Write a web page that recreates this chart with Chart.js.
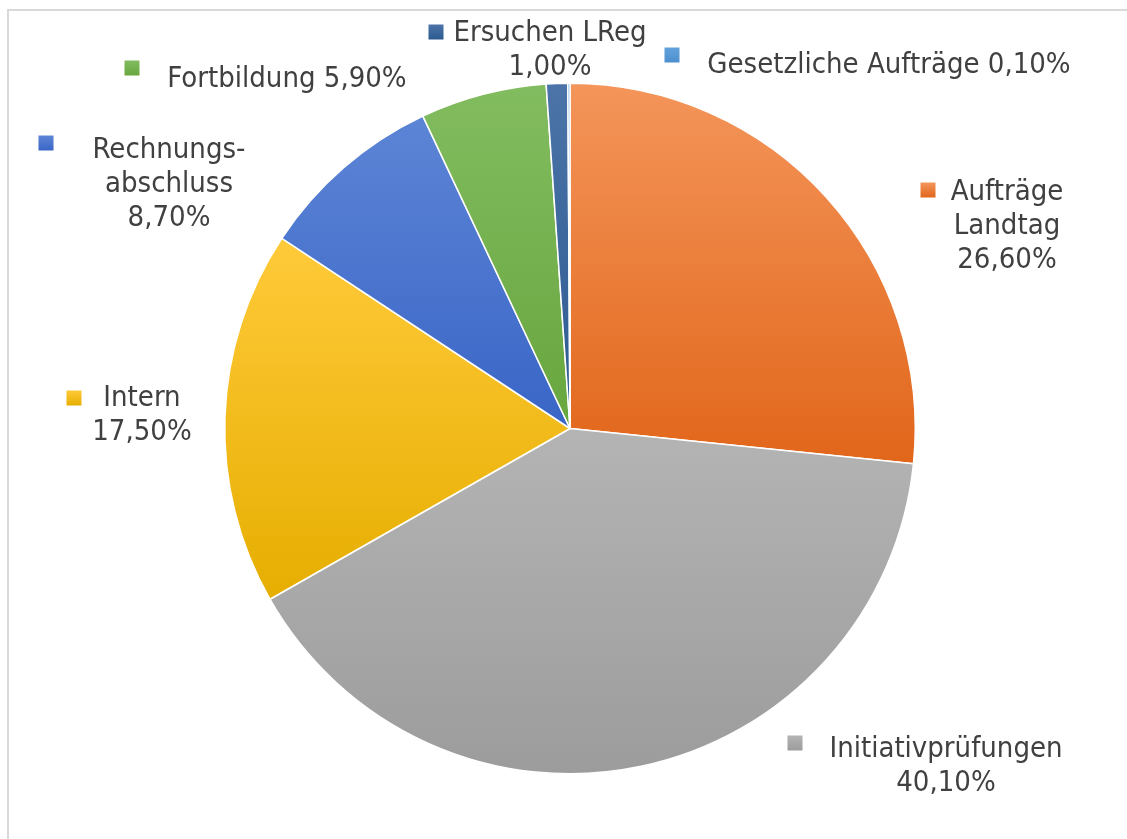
<!DOCTYPE html>
<html>
<head>
<meta charset="utf-8">
<script src="https://cdn.jsdelivr.net/npm/chart.js@4.4.1/dist/chart.umd.min.js"></script>
<style>
  html, body { margin: 0; padding: 0; background: #fff; overflow: hidden; }
  canvas { display: block; }
</style>
</head>
<body>
<canvas id="pie-chart" width="1127" height="839"></canvas>
<script>
// Daten
const categories = ['Aufträge Landtag', 'Initiativprüfungen', 'Intern', 'Rechnungsabschluss',
                    'Fortbildung', 'Ersuchen LReg', 'Gesetzliche Aufträge'];
const values = [26.6, 40.1, 17.5, 8.7, 5.9, 1.0, 0.1];
// Zeilenumbruch der Beschriftungen wie im Original
const labelLines = [
  ['Aufträge', 'Landtag'],
  ['Initiativprüfungen'],
  ['Intern'],
  ['Rechnungs-', 'abschluss'],
  ['Fortbildung'],
  ['Ersuchen LReg'],
  ['Gesetzliche Aufträge']
];
// Prozent in eigener Zeile oder hinten dran
const pctOwnLine = [true, true, true, true, false, true, false];

// Farben (oben hell, unten dunkel)
const colorsTop = ['#f4955a', '#b4b4b4', '#ffca3a', '#5d85d6', '#82bc60', '#4c74a8', '#62a2dd'];
const colorsBottom = ['#e1661a', '#9c9c9c', '#e6ae00', '#3965c6', '#68a63e', '#2c5a90', '#4d8fcf'];

// Position der Beschriftungen (Textmitte x, erste Zeile y, Kästchen mx/my)
const labelPos = [
  { x: 1007, y: 192, mx: 928, my: 190 },
  { x: 946, y: 749, mx: 795, my: 743 },
  { x: 142, y: 398, mx: 74, my: 398 },
  { x: 169, y: 150, mx: 46, my: 143 },
  { x: 287, y: 79, mx: 132, my: 68 },
  { x: 550, y: 33, mx: 436, my: 32 },
  { x: 889, y: 65, mx: 672, my: 55 }
];

const fontFamily = '"DejaVu Sans Condensed", "DejaVu Sans", sans-serif';

function fmt(v) {
  return v.toFixed(2).replace('.', ',') + '%';
}

// Verlauf je Tortenstück (oben -> unten des Stücks)
function sliceGradient(chart, i) {
  const area = chart.chartArea;
  const ctx = chart.ctx;
  const cy = (area.top + area.bottom) / 2;
  const r = Math.min(area.right - area.left, area.bottom - area.top) / 2;
  const total = values.reduce((a, b) => a + b, 0);
  let before = 0;
  for (let k = 0; k < i; k++) before += values[k];
  const a0 = -Math.PI / 2 + 2 * Math.PI * before / total;
  const a1 = a0 + 2 * Math.PI * values[i] / total;
  let ys = [cy, cy + r * Math.sin(a0), cy + r * Math.sin(a1)];
  [-Math.PI / 2, Math.PI / 2, 3 * Math.PI / 2].forEach(a => {
    if (a >= a0 && a <= a1) ys.push(cy + r * Math.sin(a));
  });
  const top = Math.min(...ys), bottom = Math.max(...ys);
  const g = ctx.createLinearGradient(0, top, 0, bottom);
  g.addColorStop(0, colorsTop[i]);
  g.addColorStop(1, colorsBottom[i]);
  return g;
}

// Rahmen oben und links
const framePlugin = {
  id: 'frame',
  beforeDraw(chart) {
    const ctx = chart.ctx;
    ctx.save();
    ctx.strokeStyle = '#d9d9d9';
    ctx.lineWidth = 2;
    ctx.beginPath();
    ctx.moveTo(8, chart.height);
    ctx.lineTo(8, 10);
    ctx.lineTo(chart.width, 10);
    ctx.stroke();
    ctx.restore();
  }
};

const labelPlugin = {
  id: 'outsideLabels',
  afterDraw(chart) {
    const ctx = chart.ctx;
    ctx.save();
    ctx.font = '29px ' + fontFamily;
    ctx.textAlign = 'center';
    ctx.textBaseline = 'middle';
    values.forEach((v, i) => {
      const p = labelPos[i];
      let lines = labelLines[i].slice();
      if (pctOwnLine[i]) {
        lines.push(fmt(v));
      } else {
        lines[lines.length - 1] += ' ' + fmt(v);
      }
      ctx.fillStyle = '#404040';
      lines.forEach((t, k) => {
        ctx.fillText(t, p.x, p.y + k * 34);
      });
      // Legendenkästchen
      const s = 15;
      const g = ctx.createLinearGradient(0, p.my - s / 2, 0, p.my + s / 2);
      g.addColorStop(0, colorsTop[i]);
      g.addColorStop(1, colorsBottom[i]);
      ctx.fillStyle = g;
      ctx.fillRect(p.mx - s / 2, p.my - s / 2, s, s);
    });
    ctx.restore();
  }
};

const ctx = document.getElementById('pie-chart').getContext('2d');
const myChart = new Chart(ctx, {
  type: 'pie',
  data: {
    labels: categories,
    datasets: [{
      data: values,
      backgroundColor: (c) => {
        if (!c.chart.chartArea) return colorsTop[c.dataIndex];
        return sliceGradient(c.chart, c.dataIndex);
      },
      borderColor: '#ffffff',
      borderWidth: 1.5
    }]
  },
  options: {
    responsive: false,
    animation: false,
    layout: {
      padding: { top: 82, bottom: 64, left: 224, right: 211 }
    },
    plugins: {
      legend: { display: false },
      tooltip: { enabled: false }
    }
  },
  plugins: [framePlugin, labelPlugin]
});
</script>
</body>
</html>
